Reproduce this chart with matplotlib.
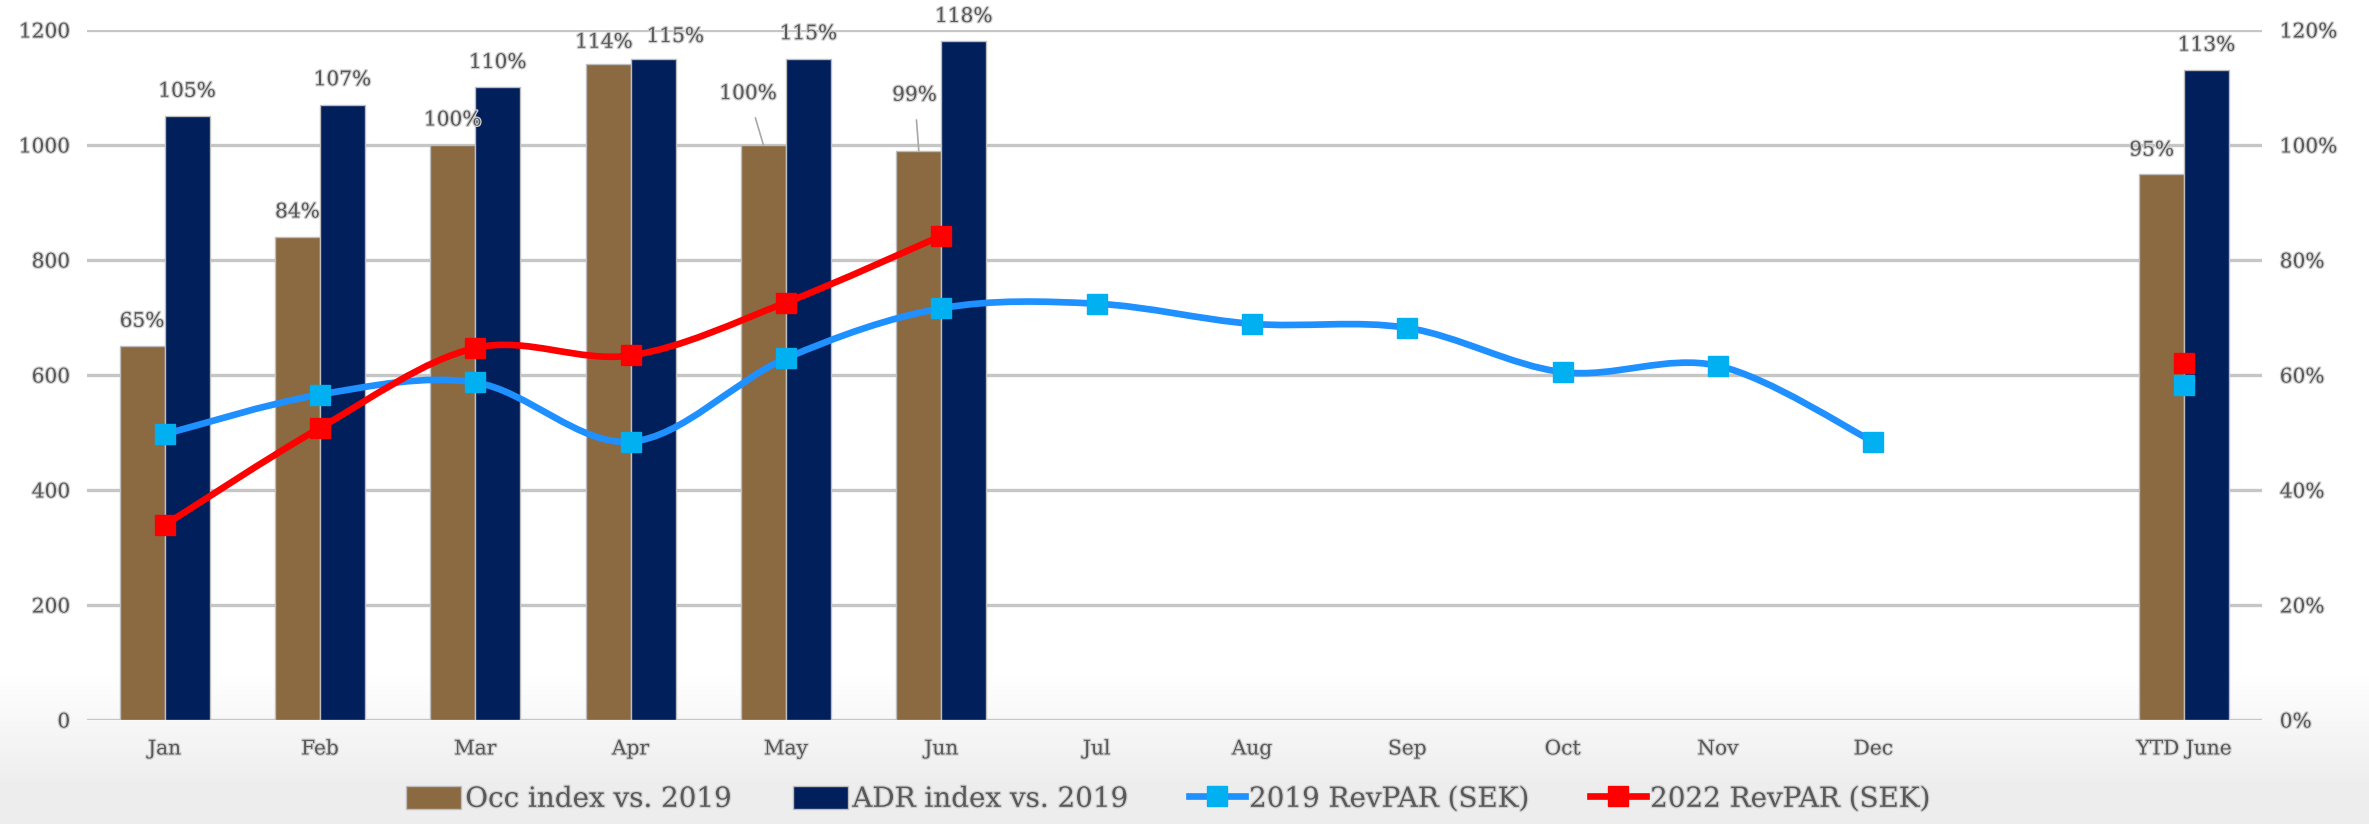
import numpy as np
import matplotlib.pyplot as plt
from matplotlib.path import Path
from matplotlib.patches import PathPatch
from matplotlib.lines import Line2D
from matplotlib.patches import Patch
import matplotlib.patheffects as pe

# Chart data
categories = ['Jan', 'Feb', 'Mar', 'Apr', 'May', 'Jun', 'Jul', 'Aug', 'Sep',
              'Oct', 'Nov', 'Dec', '', 'YTD June']
occ_index = [65, 84, 100, 114, 100, 99, None, None, None, None, None, None, None, 95]
adr_index = [105, 107, 110, 115, 115, 118, None, None, None, None, None, None, None, 113]
revpar_2019 = [497, 566, 587, 484, 629, 716, 724, 689, 682, 605, 616, 484, None, 582]
revpar_2022 = [339, 508, 647, 634, 726, 842, None, None, None, None, None, None, None, 621]

BROWN = '#8B6A42'
NAVY = '#001F5B'
BLUE_LINE = '#1E90FF'
BLUE_MARK = '#00B0F0'
RED = '#FF0000'
TEXT = '#595959'
GRID = '#c6c6c6'

plt.rcParams['font.family'] = ['DejaVu Serif']
fx = [pe.withStroke(linewidth=1.8, foreground='#cfcfcf')]


def to_arr(vals):
    return np.array([np.nan if v is None else v for v in vals], dtype=float)


def smooth_path(x, y):
    # Excel-like smoothed line: cubic bezier through the points
    verts = [(x[0], y[0])]
    codes = [Path.MOVETO]
    n = len(x)
    for i in range(n - 1):
        p0 = np.array([x[max(i - 1, 0)], y[max(i - 1, 0)]])
        p1 = np.array([x[i], y[i]])
        p2 = np.array([x[i + 1], y[i + 1]])
        p3 = np.array([x[min(i + 2, n - 1)], y[min(i + 2, n - 1)]])
        c1 = p1 + (p2 - p0) / 6.0
        c2 = p2 - (p3 - p1) / 6.0
        verts += [tuple(c1), tuple(c2), tuple(p2)]
        codes += [Path.CURVE4] * 3
    return Path(verts, codes)


def draw_series(ax, vals, line_color, mark_color):
    y = to_arr(vals)
    x = np.arange(len(y), dtype=float)
    ok = ~np.isnan(y)
    # split into runs of consecutive values
    start = None
    for i in range(len(y) + 1):
        if i < len(y) and ok[i]:
            if start is None:
                start = i
        else:
            if start is not None and i - start >= 2:
                ax.add_patch(PathPatch(smooth_path(x[start:i], y[start:i]),
                                       facecolor='none', edgecolor=line_color,
                                       lw=4.8, capstyle='round', joinstyle='round',
                                       zorder=3))
            start = None
    ax.plot(x[ok], y[ok], linestyle='none', marker='s', markersize=14.5,
            markerfacecolor=mark_color, markeredgecolor=mark_color, zorder=4)


fig = plt.figure(figsize=(23.69, 8.24), dpi=100)

# light gray gradient at the bottom of the figure
bg = fig.add_axes([0, 0, 1, 1], zorder=-10)
grad = np.linspace(0, 1, 256).reshape(-1, 1)
grad = np.clip((grad - 0.04) / 0.14, 0, 1)
bg.imshow(np.dstack([np.ones_like(grad) * c for c in (0.93, 0.93, 0.93)] + [1 - grad]),
          aspect='auto', extent=[0, 1, 0, 1], origin='lower')
bg.set_axis_off()

rect = [0.0367, 0.1262, 0.918, 0.8374]
ax2 = fig.add_axes(rect)   # bars, percent axis on the right
ax = ax2.twinx()           # lines, RevPAR axis on the left
ax.set_zorder(ax2.get_zorder() + 1)
ax.patch.set_visible(False)
ax2.patch.set_visible(False)

x = np.arange(len(categories))
w = 0.29
occ = to_arr(occ_index)
adr = to_arr(adr_index)
ax2.bar(x - w / 2, occ, w, color=BROWN, edgecolor='#bdbdbd', linewidth=1, zorder=2)
ax2.bar(x + w / 2, adr, w, color=NAVY, edgecolor='#bdbdbd', linewidth=1, zorder=2)

# data labels (offsets in points)
special = {('occ', 3): (-3, 16), ('adr', 3): (16, 16),
           ('occ', 4): (-11, 37), ('occ', 5): (-3, 40), ('occ', 13): (-7, 17)}
for name, vals, dx in (('occ', occ, -w / 2), ('adr', adr, w / 2)):
    for i, v in enumerate(vals):
        if np.isnan(v):
            continue
        off = special.get((name, i), (0, 18))
        lead = off[1] > 30
        ax2.annotate(f'{v:.0f}%', xy=(i + dx, v), xytext=off, textcoords='offset points',
                     ha='center', va='center', fontsize=14.5, color=TEXT, path_effects=fx,
                     arrowprops=dict(arrowstyle='-', color='#a8a8a8', lw=1.2,
                                     shrinkA=9, shrinkB=0) if lead else None,
                     zorder=5)

ax2.set_ylim(0, 120)
ax2.set_yticks(range(0, 121, 20))
ax2.set_yticklabels([f'{t}%' for t in range(0, 121, 20)])
ax2.yaxis.tick_right()
ax2.grid(axis='y', color=GRID, lw=2.4, zorder=0)
ax2.set_axisbelow(True)

draw_series(ax, revpar_2019, BLUE_LINE, BLUE_MARK)
draw_series(ax, revpar_2022, RED, RED)
ax.set_ylim(0, 1200)
ax.set_yticks(range(0, 1201, 200))
ax.yaxis.tick_left()
ax.set_xlim(-0.5, len(categories) - 0.5)
ax2.set_xlim(-0.5, len(categories) - 0.5)
ax2.set_xticks(x)
ax2.set_xticklabels(categories)

for a in (ax, ax2):
    for s in a.spines.values():
        s.set_visible(False)
    a.tick_params(length=0, labelsize=14.5, labelcolor=TEXT)
    for lbl in a.get_xticklabels() + a.get_yticklabels():
        lbl.set_path_effects(fx)
ax.tick_params(axis='y', pad=12)
ax2.tick_params(axis='y', pad=13)
ax2.tick_params(axis='x', pad=14)
ax.tick_params(axis='x', labelbottom=False)

handles = [
    Patch(facecolor=BROWN, edgecolor='#bdbdbd'),
    Patch(facecolor=NAVY, edgecolor='#bdbdbd'),
    Line2D([], [], color=BLUE_LINE, lw=4.8, marker='s', markersize=14.5,
           markerfacecolor=BLUE_MARK, markeredgecolor=BLUE_MARK),
    Line2D([], [], color=RED, lw=4.8, marker='s', markersize=14.5,
           markerfacecolor=RED, markeredgecolor=RED),
]
labels = ['Occ index vs. 2019', 'ADR index vs. 2019', '2019 RevPAR (SEK)', '2022 RevPAR (SEK)']
leg = fig.legend(handles, labels, loc='center', bbox_to_anchor=(0.493, 0.03), ncol=4,
                 frameon=False, fontsize=20, handlelength=2.0, handleheight=0.9,
                 handletextpad=0.15, columnspacing=2.2)
for t in leg.get_texts():
    t.set_color(TEXT)
    t.set_path_effects(fx)

fig.savefig('out.png', dpi=100)
